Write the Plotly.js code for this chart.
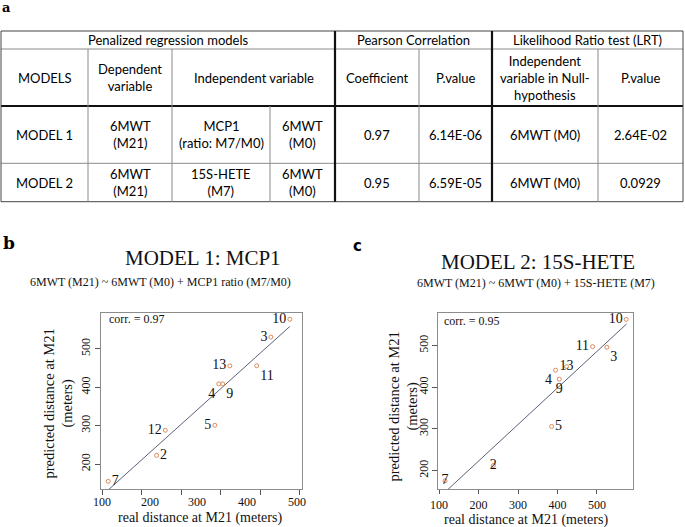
<!DOCTYPE html>
<html>
<head>
<meta charset="utf-8">
<script src="https://cdn.plot.ly/plotly-3.0.1.min.js"></script>
<style>html,body{margin:0;padding:0;background:#fff;}#chart{width:685px;height:527px;}</style>
</head>
<body>
<div id="chart"></div>
<script>
// ---------- DATA ----------
// Table (panel a)
const headerGroups = ['Penalized regression models', 'Pearson Correlation', 'Likelihood Ratio test (LRT)'];
const headerCols = ['MODELS', 'Dependent<br>variable', 'Independent variable', 'Coefficient', 'P.value',
                    'Independent<br>variable in Null-<br>hypothesis', 'P.value'];
const models = ['MODEL 1', 'MODEL 2'];
const dependentVar = ['6MWT<br>(M21)', '6MWT<br>(M21)'];
const biomarkerVar = ['MCP1<br>(ratio: M7/M0)', '15S-HETE<br>(M7)'];
const baselineVar = ['6MWT<br>(M0)', '6MWT<br>(M0)'];
const pearsonCoef = ['0.97', '0.95'];
const pearsonP = ['6.14E-06', '6.59E-05'];
const nullVar = ['6MWT (M0)', '6MWT (M0)'];
const lrtP = ['2.64E-02', '0.0929'];

// Scatter, panel b (MODEL 1: MCP1)
const idsB  = ['2', '3', '4', '5', '7', '9', '10', '11', '12', '13'];
const realB = [237.5, 527, 395, 385, 115, 405, 575, 491, 259.5, 423];
const predB = [222.6, 530.5, 408.7, 301, 155, 408.7, 577, 456, 288, 455.6];
const fitXB = [115, 575];
const fitYB = [132.5, 558.2];
const corrB = 'corr. = 0.97';

// Scatter, panel c (MODEL 2: 15S-HETE)
const idsC  = ['2', '3', '4', '5', '7', '9', '10', '11', '13'];
const realC = [237.5, 525, 395, 385, 115, 404.5, 574, 489, 423];
const predC = [212, 496, 441, 306, 175.5, 419.4, 563, 497.6, 449.6];
const fitXC = [115, 575];
const fitYC = [148.2, 552];
const corrC = 'corr. = 0.95';

// Axis ticks
const xTicksB = [100, 200, 300, 400, 500, 600];
const xTickTextB = ['100', '200', '300', '400', '500'];
const xTickTextPosB = [100, 221, 339, 466, 593];   // where the labels sit in the reference
const xTicksC = [100, 200, 300, 400, 500];
const yTicks = [200, 300, 400, 500];

const titleB = 'MODEL 1: MCP1';
const subB = '6MWT (M21) ~ 6MWT (M0) + MCP1 ratio (M7/M0)';
const titleC = 'MODEL 2: 15S-HETE';
const subC = '6MWT (M21) ~ 6MWT (M0) + 15S-HETE (M7)';
const xTitle = 'real distance at M21 (meters)';
const yTitle = 'predicted distance at M21<br>(meters)';

// ---------- LAYOUT HELPERS ----------
const W = 685, H = 527;
const PX = p => p / W;
const PY = p => 1 - p / H;
const SERIF = 'Liberation Serif, Times New Roman, serif';
const TABLEFONT = 'Lato, Open Sans, sans-serif';

const shapes = [];
const annotations = [];

function hline(y, x0, x1, color, w) {
  shapes.push({type: 'line', xref: 'paper', yref: 'paper', x0: PX(x0), x1: PX(x1), y0: PY(y), y1: PY(y),
               line: {color: color, width: w}});
}
function vline(x, y0, y1, color, w) {
  shapes.push({type: 'line', xref: 'paper', yref: 'paper', x0: PX(x), x1: PX(x), y0: PY(y0), y1: PY(y1),
               line: {color: color, width: w}});
}
function txt(text, x, y, opts) {
  annotations.push(Object.assign({text: text, xref: 'paper', yref: 'paper', x: PX(x), y: PY(y),
    xanchor: 'center', yanchor: 'middle', showarrow: false,
    font: {family: TABLEFONT, size: 13, color: '#000'}}, opts || {}));
}

// ---------- TABLE ----------
const rowY = [31, 49, 106, 163.3, 201.7];
const LEFT = 1, RIGHT = 683;
const OUTER = '#444', INNER = '#8a8a8a';
hline(rowY[0], LEFT, RIGHT, OUTER, 1);
hline(rowY[1], LEFT, RIGHT, INNER, 1);
hline(rowY[2], LEFT, RIGHT, '#111', 2.2);
hline(rowY[3], LEFT, RIGHT, INNER, 1);
hline(rowY[4], LEFT, RIGHT, OUTER, 1);
vline(LEFT, rowY[0], rowY[4], OUTER, 1);
vline(RIGHT, rowY[0], rowY[4], OUTER, 1);
vline(88, rowY[1], rowY[4], INNER, 1);
vline(172, rowY[1], rowY[4], INNER, 1);
vline(270, rowY[2], rowY[4], INNER, 1);
vline(335, rowY[0], rowY[4], '#111', 2.2);
vline(419, rowY[1], rowY[4], INNER, 1);
vline(492, rowY[0], rowY[4], '#111', 2.2);
vline(598, rowY[1], rowY[4], INNER, 1);

const groupCx = [168, 413.5, 587.5];
headerGroups.forEach((t, i) => txt(t, groupCx[i], (rowY[0] + rowY[1]) / 2));
const headCx = [44.5, 130, 253.5, 377, 455.5, 545, 640.5];
headerCols.forEach((t, i) => txt(t, headCx[i], (rowY[1] + rowY[2]) / 2));
const cellCx = [44.5, 130, 221, 302.5, 377, 455.5, 545, 640.5];
models.forEach((m, r) => {
  const cy = (rowY[2 + r] + rowY[3 + r]) / 2;
  const row = [m, dependentVar[r], biomarkerVar[r], baselineVar[r], pearsonCoef[r], pearsonP[r], nullVar[r], lrtP[r]];
  row.forEach((t, i) => txt(t, cellCx[i], cy));
});

// ---------- PANEL LETTERS / TITLES ----------
txt('<b>a</b>', 6.5, 7.5, {font: {family: 'DejaVu Serif, serif', size: 13, color: '#000'}});
txt('<b>b</b>', 8.5, 243, {font: {family: 'DejaVu Serif, serif', size: 17, color: '#000'}});
txt('<b>c</b>', 357.5, 245.5, {font: {family: 'DejaVu Sans, sans-serif', size: 15, color: '#000'}});

txt(titleB, 203, 258, {font: {family: SERIF, size: 21, color: '#111'}});
txt(subB, 160, 282, {font: {family: SERIF, size: 12, color: '#111'}});
txt(titleC, 538, 261.5, {font: {family: SERIF, size: 21, color: '#111'}});
txt(subC, 536, 283, {font: {family: SERIF, size: 12, color: '#111'}});

// axis titles
txt(xTitle, 200, 517.5, {font: {family: SERIF, size: 14, color: '#111'}});
txt(xTitle, 526, 519.5, {font: {family: SERIF, size: 14, color: '#111'}});
txt(yTitle, 58.5, 404, {textangle: -90, font: {family: SERIF, size: 14.5, color: '#111'}});
txt(yTitle, 403.5, 407, {textangle: -90, font: {family: SERIF, size: 14.5, color: '#111'}});

// corr labels
txt(corrB, 106.5, 319.5, {xanchor: 'left', font: {family: SERIF, size: 12, color: '#111'}});
txt(corrC, 441.5, 321, {xanchor: 'left', font: {family: SERIF, size: 12, color: '#111'}});

// x tick labels of panel b (placed on the data axis)
xTickTextB.forEach((t, i) => {
  annotations.push({text: t, xref: 'x', yref: 'paper', x: xTickTextPosB[i], y: PY(502),
    xanchor: 'center', yanchor: 'middle', showarrow: false,
    font: {family: SERIF, size: 12, color: '#111'}});
});

// ---------- TRACES ----------
const markerStyle = {symbol: 'circle-open', size: 4, color: '#e08a5a', line: {width: 1, color: '#e08a5a'}};
const labelFont = {family: SERIF, size: 14, color: '#111'};
const posB = ['middle right', 'middle left', 'bottom left', 'middle left', 'middle right',
              'bottom right', 'middle left', 'bottom right', 'middle left', 'middle left'];
const posC = ['middle center', 'bottom right', 'bottom left', 'middle right', 'middle center',
              'bottom center', 'middle left', 'middle left', 'middle center'];

const traces = [
  {x: fitXB, y: fitYB, xaxis: 'x', yaxis: 'y', mode: 'lines', line: {color: '#5c5f78', width: 1}, hoverinfo: 'skip'},
  {x: realB, y: predB, xaxis: 'x', yaxis: 'y', mode: 'markers+text', text: idsB, textposition: posB,
   textfont: labelFont, marker: markerStyle, cliponaxis: false},
  {x: fitXC, y: fitYC, xaxis: 'x2', yaxis: 'y2', mode: 'lines', line: {color: '#5c5f78', width: 1}, hoverinfo: 'skip'},
  {x: realC, y: predC, xaxis: 'x2', yaxis: 'y2', mode: 'markers+text', text: idsC, textposition: posC,
   textfont: labelFont, marker: markerStyle, cliponaxis: false}
];

const axisCommon = {showgrid: false, zeroline: false, showline: true, mirror: true, linecolor: '#8c8c8c',
  linewidth: 1, ticks: 'outside', ticklen: 5, tickcolor: '#555', tickwidth: 1,
  tickfont: {family: SERIF, size: 12, color: '#111'}, tickmode: 'array', fixedrange: true};

const layout = {
  width: W, height: H, margin: {l: 0, r: 0, t: 0, b: 0}, paper_bgcolor: '#fff', plot_bgcolor: '#fff',
  showlegend: false,
  xaxis: Object.assign({}, axisCommon, {domain: [PX(101), PX(301.7)], range: [96.7, 605], anchor: 'y',
    tickvals: xTicksB, showticklabels: false}),
  yaxis: Object.assign({}, axisCommon, {domain: [PY(489), PY(312.7)], range: [135, 594], anchor: 'x',
    tickvals: yTicks, tickangle: -90}),
  xaxis2: Object.assign({}, axisCommon, {domain: [PX(438.3), PX(633.3)], range: [98, 592], anchor: 'y2',
    tickvals: xTicksC, ticklen: 4}),
  yaxis2: Object.assign({}, axisCommon, {domain: [PY(489.3), PY(312.7)], range: [155, 579], anchor: 'x2',
    tickvals: yTicks, tickangle: -90}),
  shapes: shapes,
  annotations: annotations
};

Plotly.newPlot('chart', traces, layout, {displayModeBar: false, staticPlot: true});
</script>
</body>
</html>
